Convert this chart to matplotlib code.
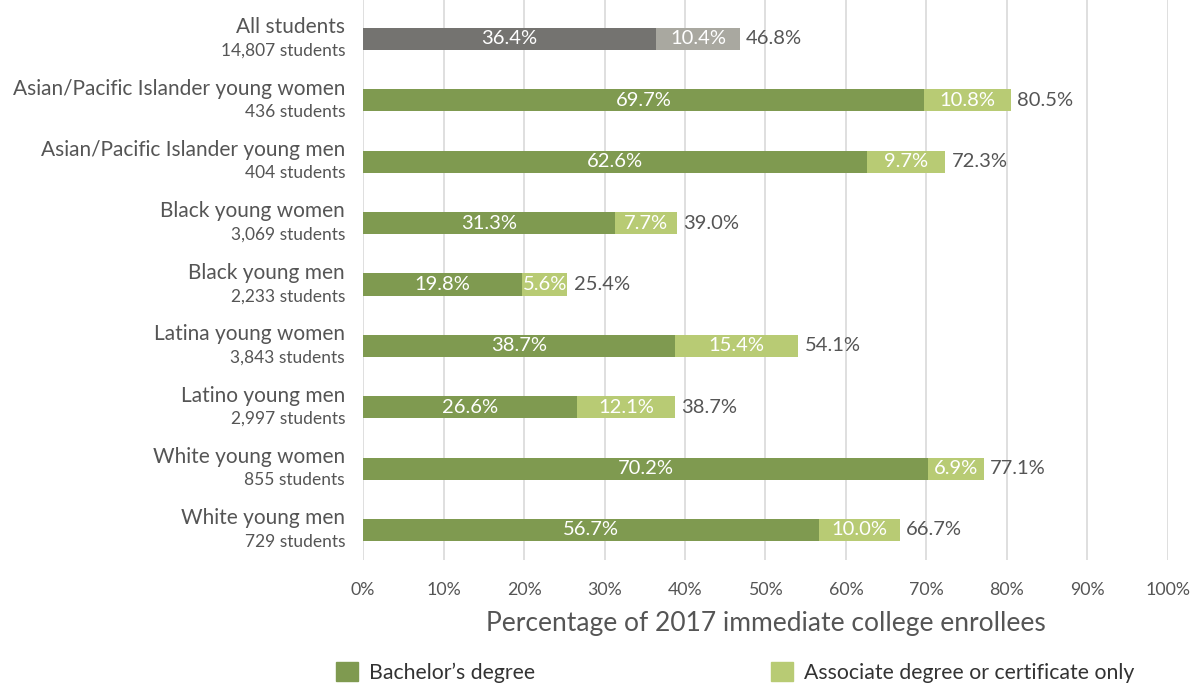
import matplotlib.pyplot as plt
import matplotlib.transforms as mtransforms
from matplotlib.patches import Patch

plt.rcParams['font.family'] = ['Lato', 'DejaVu Sans']

groups = ['All students', 'Asian/Pacific Islander young women', 'Asian/Pacific Islander young men',
          'Black young women', 'Black young men', 'Latina young women', 'Latino young men',
          'White young women', 'White young men']
counts = ['14,807', '436', '404', '3,069', '2,233', '3,843', '2,997', '855', '729']
bachelor = [36.4, 69.7, 62.6, 31.3, 19.8, 38.7, 26.6, 70.2, 56.7]
associate = [10.4, 10.8, 9.7, 7.7, 5.6, 15.4, 12.1, 6.9, 10.0]
totals = [46.8, 80.5, 72.3, 39.0, 25.4, 54.1, 38.7, 77.1, 66.7]
ticks = [0, 10, 20, 30, 40, 50, 60, 70, 80, 90, 100]

txt = '#555555'
c_bach = ['#747370'] + ['#7f9a50'] * 8
c_assoc = ['#a9a8a0'] + ['#b8cb74'] * 8

fig = plt.figure(figsize=(11.93, 6.83), dpi=100)
ax = fig.add_axes([0.3043, 0.18, 0.6747, 0.82])

y = list(range(len(groups)))
ax.barh(y, bachelor, height=0.36, color=c_bach, zorder=2)
ax.barh(y, associate, left=bachelor, height=0.36, color=c_assoc, zorder=2)

for i in y:
    ax.text(bachelor[i] / 2, i, f'{bachelor[i]:.1f}%', ha='center', va='center',
            color='white', fontsize=14.5)
    ax.text(bachelor[i] + associate[i] / 2, i, f'{associate[i]:.1f}%', ha='center',
            va='center', color='white', fontsize=14.5)
    ax.text(totals[i] + 0.8, i, f'{totals[i]:.1f}%', ha='left', va='center',
            color=txt, fontsize=14.5)

trans = mtransforms.blended_transform_factory(ax.transAxes, ax.transData)
off = mtransforms.offset_copy(trans, fig=fig, x=-18, y=0, units='dots')
for i in y:
    ax.text(0, i - 0.19, groups[i], transform=off, ha='right', va='center',
            color=txt, fontsize=15)
    ax.text(0, i + 0.19, f'{counts[i]} students', transform=off, ha='right',
            va='center', color=txt, fontsize=12.5)

ax.set_xlim(0, 100)
ax.set_ylim(8.49, -0.635)
ax.set_xticks(ticks)
ax.set_xticklabels([f'{t}%' for t in ticks], color=txt, fontsize=12.8)
ax.set_yticks([])
ax.tick_params(axis='x', length=0, pad=16)
ax.grid(axis='x', color='#d9d9d9', linewidth=1.2, zorder=0)
for s in ax.spines.values():
    s.set_visible(False)
ax.set_xlabel('Percentage of 2017 immediate college enrollees', color=txt,
              fontsize=19, labelpad=9)

handles = [Patch(color='#7f9a50', label='Bachelor\u2019s degree'),
           Patch(color='#b8cb74', label='Associate degree or certificate only')]
fig.legend(handles=handles, loc='lower left', bbox_to_anchor=(0.266, -0.028), ncol=2,
           frameon=False, fontsize=15.3, labelcolor='#333333', handlelength=1.0,
           handleheight=1.0, handletextpad=0.55, columnspacing=11.1)

fig.savefig('out.png', dpi=100)
